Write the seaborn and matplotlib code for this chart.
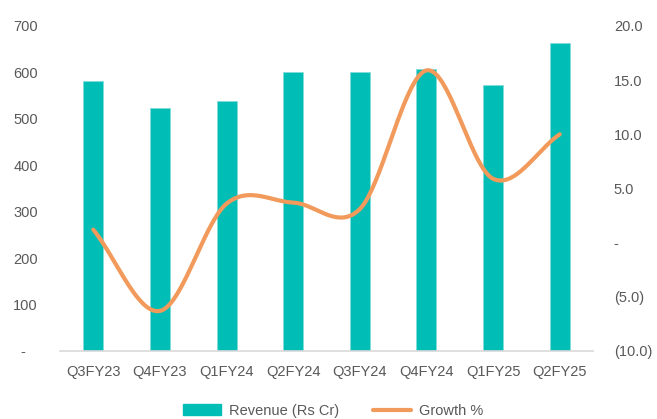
import numpy as np
import pandas as pd
import matplotlib
matplotlib.use("Agg")
import matplotlib.pyplot as plt
from matplotlib.patches import Patch
from matplotlib.lines import Line2D
import seaborn as sns

quarters = ["Q3FY23", "Q4FY23", "Q1FY24", "Q2FY24", "Q3FY24", "Q4FY24", "Q1FY25", "Q2FY25"]
revenue = [581, 523, 538, 601, 601, 607, 573, 663]
growth = [1.2, -6.3, 3.6, 3.7, 3.1, 15.9, 5.9, 10.0]
left_ticks = [0, 100, 200, 300, 400, 500, 600, 700]
left_labels = ["-   ", "100", "200", "300", "400", "500", "600", "700"]
right_ticks = [-10, -5, 0, 5, 10, 15, 20]
right_labels = ["(10.0)", "(5.0)", "-", "5.0", "10.0", "15.0", "20.0"]

TEAL = "#00BDB6"
ORANGE = "#F29A5B"
GRAY = "#595959"
FS = 10.5

sns.set_theme(style="white")
plt.rcParams["font.family"] = ["Liberation Sans", "DejaVu Sans"]

fig = plt.figure(figsize=(6.57, 4.19), dpi=100)
ax = fig.add_axes([0.0913, 0.1623, 0.9026 - 0.0913, 0.938 - 0.1623])

df = pd.DataFrame({"quarter": quarters, "revenue": revenue, "growth": growth})
sns.barplot(data=df, x="quarter", y="revenue", color=TEAL, saturation=1,
            width=0.3, ax=ax, edgecolor="#7FDCD8", linewidth=0.5)
ax.set_ylim(0, 700)
ax.set_xlim(-0.5, len(quarters) - 0.5)
ax.set_yticks(left_ticks)
ax.set_yticklabels(left_labels)
ax.set_xlabel("")
ax.set_ylabel("")
for s in ["top", "right", "left"]:
    ax.spines[s].set_visible(False)
ax.spines["bottom"].set_color("#D9D9D9")
ax.spines["bottom"].set_linewidth(1.2)
ax.tick_params(axis="y", length=0, pad=16, labelsize=FS, labelcolor=GRAY)
ax.tick_params(axis="x", length=0, pad=10, labelsize=FS, labelcolor=GRAY)

# Smoothed line (Catmull-Rom style smoothing, like Excel's smoothed line)
ax2 = ax.twinx()
x = np.arange(len(growth), dtype=float)
y = np.array(growth, dtype=float)
px = np.concatenate([[2 * x[0] - x[1]], x, [2 * x[-1] - x[-2]]])
py = np.concatenate([[2 * y[0] - y[1]], y, [2 * y[-1] - y[-2]]])
xs, ys = [], []
t = np.linspace(0, 1, 40)
for i in range(1, len(px) - 2):
    p0, p1, p2, p3 = px[i - 1], px[i], px[i + 1], px[i + 2]
    q0, q1, q2, q3 = py[i - 1], py[i], py[i + 1], py[i + 2]
    def cr(a0, a1, a2, a3):
        return 0.5 * ((2 * a1) + (-a0 + a2) * t + (2 * a0 - 5 * a1 + 4 * a2 - a3) * t ** 2
                      + (-a0 + 3 * a1 - 3 * a2 + a3) * t ** 3)
    xs.extend(cr(p0, p1, p2, p3))
    ys.extend(cr(q0, q1, q2, q3))
ax2.plot(xs, ys, color=ORANGE, linewidth=3, solid_capstyle="round")
ax2.set_ylim(-10, 20)
ax2.set_yticks(right_ticks)
ax2.set_yticklabels(right_labels)
for s in ["top", "right", "left", "bottom"]:
    ax2.spines[s].set_visible(False)
ax2.tick_params(axis="y", length=0, pad=15, labelsize=FS, labelcolor=GRAY)
ax2.grid(False)
ax.grid(False)

handles = [Patch(facecolor=TEAL, edgecolor=TEAL),
           Line2D([0], [0], color=ORANGE, linewidth=3)]
fig.legend(handles, ["Revenue (Rs Cr)", "Growth %"], loc="center",
           bbox_to_anchor=(0.507, 0.02), ncol=2, frameon=False,
           fontsize=FS, labelcolor=GRAY, handlelength=2.6,
           handletextpad=0.55, columnspacing=2.3, handleheight=0.7)

fig.savefig("out.png", dpi=100)
